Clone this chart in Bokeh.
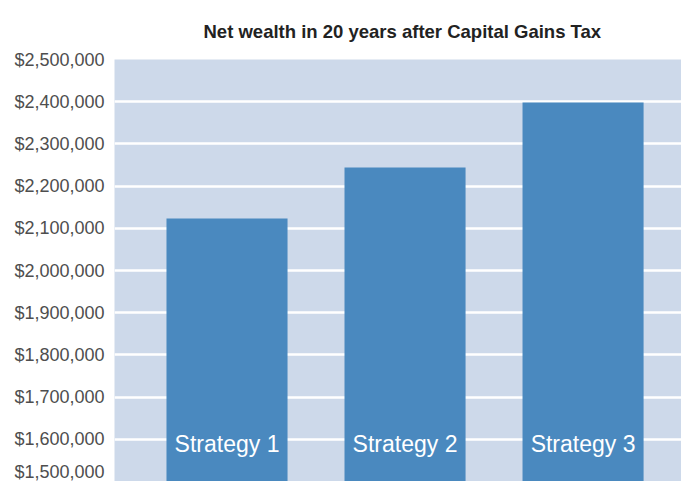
from bokeh.plotting import figure
from bokeh.models import Range1d, NumeralTickFormatter, ColumnDataSource, FixedTicker
from bokeh.core.properties import value
from bokeh.embed import file_html
from bokeh.resources import INLINE
import numpy as np

categories = ["Strategy 1", "Strategy 2", "Strategy 3"]
net_wealth = [2123000, 2244000, 2398000]
y_ticks = [1500000, 1600000, 1700000, 1800000, 1900000, 2000000, 2100000, 2200000, 2300000, 2400000, 2500000]
title_text = "Net wealth in 20 years after Capital Gains Tax"

x_pos = np.arange(len(categories)) + 0.5
src = ColumnDataSource(dict(x=x_pos, top=net_wealth, label=categories,
                            label_y=[y_ticks[1]] * len(categories)))

p = figure(width=681, height=481, output_backend="svg", toolbar_location=None,
           x_range=Range1d(-0.132, 3.053), y_range=Range1d(y_ticks[0], y_ticks[-1]),
           x_axis_type=None, min_border_left=114, min_border_right=0,
           min_border_top=59, min_border_bottom=0)

p.title.text = title_text
p.title.align = "left"
p.title.offset = 89
p.title.standoff = 36
p.title.text_font = "Liberation Sans"
p.title.text_font_size = "18.5px"
p.title.text_font_style = "bold"
p.title.text_color = "#222222"

p.background_fill_color = "#CDD9EA"
p.border_fill_color = "white"
p.outline_line_color = None

p.vbar(x="x", top="top", bottom=y_ticks[0], width=0.68, source=src,
       fill_color="#4A89BF", line_color=None)

p.text(x="x", y="label_y", text="label", source=src, text_align="center",
       text_baseline="middle", y_offset=5, text_color="white",
       text_font=value("Liberation Sans"), text_font_size="23px")

label_color = "#4e4e4e"
p.yaxis.ticker = FixedTicker(ticks=y_ticks)
p.yaxis.formatter = NumeralTickFormatter(format="$0,0")
p.yaxis.axis_line_color = None
p.yaxis.major_tick_line_color = None
p.yaxis.minor_tick_line_color = None
p.yaxis.major_tick_out = 0
p.yaxis.major_tick_in = 0
p.yaxis.major_label_standoff = 10
p.yaxis.major_label_text_font = "Liberation Sans"
p.yaxis.major_label_text_font_size = "18px"
p.yaxis.major_label_text_color = label_color

p.ygrid.grid_line_color = "white"
p.ygrid.grid_line_width = 2.5
p.xgrid.visible = False

open("out.html", "w").write(file_html(p, INLINE))
